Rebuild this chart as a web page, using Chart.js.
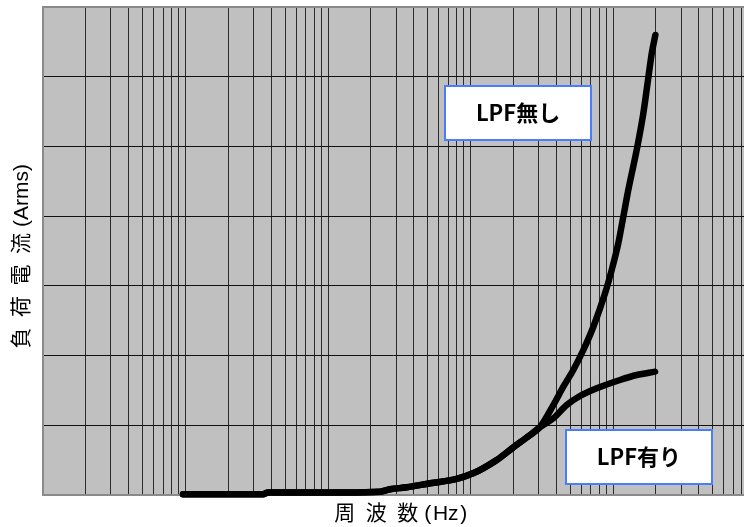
<!DOCTYPE html>
<html>
<head>
<meta charset="utf-8">
<script src="https://cdn.jsdelivr.net/npm/chart.js@4/dist/chart.umd.min.js"></script>
<style>
  html, body { margin: 0; padding: 0; background: #fff; }
  #wrap { width: 744px; height: 527px; }
</style>
</head>
<body>
<div id="wrap"><canvas id="c" width="744" height="527"></canvas></div>
<script>
// Load current versus frequency, with and without the low-pass filter.
// Both curves share the same path up to about 30 kHz, then split.
const sharedFreq    = [96, 350, 379, 1316, 2317, 2723, 3566, 5200, 8000, 10420, 12240, 15280, 19870, 26180, 30760];
const sharedCurrent = [0.01, 0.01, 0.036, 0.036, 0.047, 0.082, 0.11, 0.168, 0.23, 0.311, 0.383, 0.502, 0.68, 0.86, 0.975];

const noLpfFreq    = [38110, 44800, 52630, 61900, 72800, 87900, 97900, 108900, 118100, 128000, 146600, 163200, 179900, 187000, 198200];
const noLpfCurrent = [1.29, 1.553, 1.793, 2.08, 2.414, 2.893, 3.228, 3.611, 3.992, 4.375, 4.949, 5.475, 6.097, 6.336, 6.599];

const lpfFreq    = [38110, 47300, 58600, 76900, 111900, 146600, 197200];
const lpfCurrent = [1.10, 1.291, 1.42, 1.531, 1.65, 1.721, 1.769];

// Callout labels (anchored in data units)
const calloutText    = ['LPF無し', 'LPF有り'];
const calloutFreq    = [21540, 152100];
const calloutCurrent = [5.48, 0.545];

const freqMin = 10, freqMax = 830000;
const currentMin = 0, currentMax = 7;

// Latin glyphs from Liberation Sans, kanji/kana fall back to Noto Sans CJK JP
const TITLE_FONT = '"Liberation Sans", "Noto Sans CJK JP", sans-serif';
const LABEL_FONT = '"Noto Sans CJK JP", "Noto Sans", sans-serif';

function toPoints(xs, ys) { return xs.map((x, i) => ({ x: x, y: ys[i] })); }

// Grid lines at 1..9 x 10^n across the frequency range
function logGridValues(min, max) {
  const out = [];
  for (let e = Math.floor(Math.log10(min)); e <= Math.ceil(Math.log10(max)); e++) {
    for (let k = 1; k <= 9; k++) {
      const v = k * Math.pow(10, e);
      if (v >= min && v <= max) out.push({ value: v });
    }
  }
  return out;
}

const plotFrame = {
  id: 'plotFrame',
  beforeDraw(chart) {
    const { ctx, chartArea: a } = chart;
    ctx.save();
    ctx.fillStyle = '#c0c0c0';
    ctx.fillRect(a.left, a.top, a.right - a.left, a.bottom - a.top);
    ctx.restore();
  },
  beforeDatasetsDraw(chart) {
    const { ctx, chartArea: a } = chart;
    ctx.save();
    ctx.strokeStyle = '#8a8a8a';
    ctx.lineWidth = 2;
    ctx.beginPath();
    ctx.moveTo(a.right, a.top);
    ctx.lineTo(a.left, a.top);
    ctx.lineTo(a.left, a.bottom);
    ctx.lineTo(a.right, a.bottom);
    ctx.stroke();
    ctx.restore();
  }
};

const callouts = {
  id: 'callouts',
  afterDatasetsDraw(chart) {
    const { ctx, scales } = chart;
    const w = 146, h = 54;
    ctx.save();
    calloutText.forEach((t, i) => {
      const cx = scales.x.getPixelForValue(calloutFreq[i]);
      const cy = scales.y.getPixelForValue(calloutCurrent[i]);
      const l = Math.round(cx - w / 2), tp = Math.round(cy - h / 2);
      ctx.fillStyle = '#ffffff';
      ctx.fillRect(l, tp, w, h);
      ctx.strokeStyle = '#4a7cff';
      ctx.lineWidth = 2;
      ctx.strokeRect(l, tp, w, h);
      ctx.fillStyle = '#000';
      ctx.font = 'bold 22px ' + LABEL_FONT;
      ctx.textAlign = 'center';
      ctx.textBaseline = 'middle';
      ctx.fillText(t, cx, cy);
    });
    ctx.restore();
  }
};

const lineStyle = {
  borderColor: '#000',
  borderWidth: 6.5,
  pointRadius: 0,
  fill: false,
  cubicInterpolationMode: 'monotone',
  borderCapStyle: 'round',
  borderJoinStyle: 'round',
  clip: 4
};

new Chart(document.getElementById('c'), {
  type: 'line',
  data: {
    datasets: [
      Object.assign({ label: 'LPF無し', data: toPoints(sharedFreq.concat(noLpfFreq), sharedCurrent.concat(noLpfCurrent)) }, lineStyle),
      Object.assign({ label: 'LPF有り', data: toPoints(sharedFreq.concat(lpfFreq), sharedCurrent.concat(lpfCurrent)) }, lineStyle)
    ]
  },
  options: {
    responsive: false,
    animation: false,
    devicePixelRatio: 1,
    layout: { padding: { top: 7, right: 0, bottom: 0, left: 0 } },
    plugins: { legend: { display: false }, tooltip: { enabled: false } },
    scales: {
      x: {
        type: 'logarithmic',
        min: freqMin,
        max: freqMax,
        ticks: { display: false },
        grid: { color: '#2b2b2b', lineWidth: 1, drawTicks: false },
        border: { display: false },
        title: {
          display: true,
          text: '\u2002\u2009周\u2002波\u2002数 (\u200AHz\u200A)',
          color: '#000',
          font: { family: TITLE_FONT, size: 21 },
          padding: { top: 0, bottom: 0 }
        },
        afterBuildTicks(scale) { scale.ticks = logGridValues(freqMin, freqMax); },
        afterFit(scale) { scale.height = 32; }
      },
      y: {
        min: currentMin,
        max: currentMax,
        ticks: { display: false, stepSize: 1 },
        grid: { color: '#111', lineWidth: 1, drawTicks: false },
        border: { display: false },
        title: {
          display: true,
          text: '負\u2002荷\u2002電\u2002流 (Arms)\u2002',
          color: '#000',
          font: { family: TITLE_FONT, size: 21 },
          padding: { top: 10, bottom: 0 }
        },
        afterFit(scale) { scale.width = 43; }
      }
    }
  },
  plugins: [plotFrame, callouts]
});
</script>
</body>
</html>
